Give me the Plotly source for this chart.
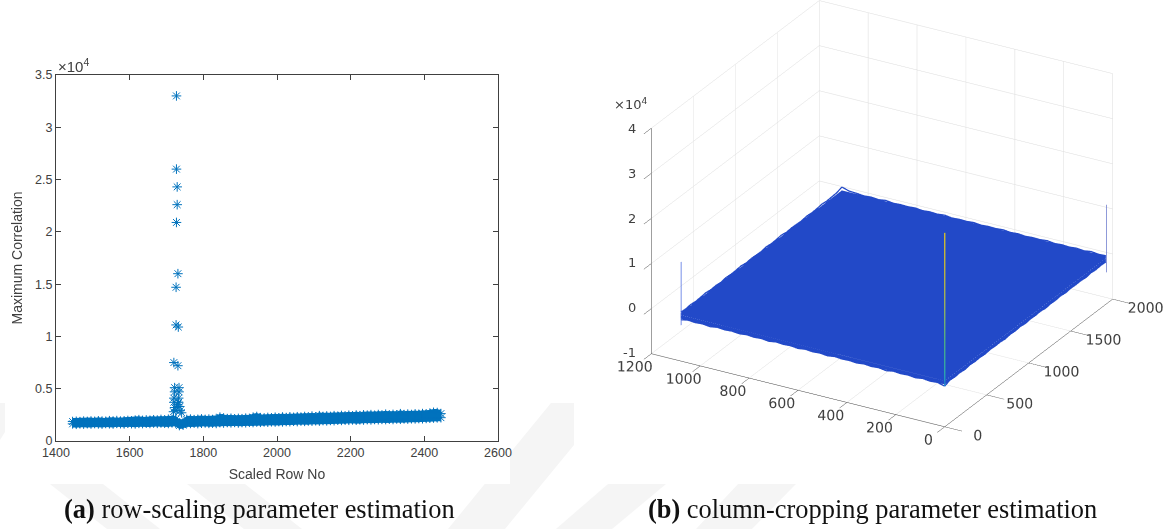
import plotly.graph_objects as go

W, H = 1170, 529
BLUE = "#0072BD"
TXT = "#404040"
SURF = "#2249c8"

# ---- left panel data
band_x = list(range(1445, 2455, 10))
band_upper = [1860,1880,1850,1900,1870,1910,1880,1930,1900,1880,1940,1910,1950,1900,1930,1960,1920,1990,2040,1970,
              2010,1980,2030,2000,2060,2020,2080,2050,2090,1720,1780,2060,2090,2040,2070,2110,2060,2090,2050,2110,
              2280,2190,2140,2170,2120,2160,2130,2180,2150,2270,2340,2230,2190,2250,2210,2270,2220,2290,2240,2310,
              2260,2320,2280,2340,2300,2380,2310,2420,2340,2390,2350,2420,2370,2440,2390,2460,2400,2480,2420,2500,
              2460,2520,2450,2530,2480,2560,2490,2540,2500,2610,2520,2570,2530,2590,2550,2620,2580,2660,2740,2720,2620]
band_lower = [1640,1600,1650,1620,1660,1630,1670,1640,1620,1680,1650,1630,1690,1660,1640,1700,1660,1640,1690,1670,
              1700,1680,1720,1690,1730,1700,1680,1740,1710,1480,1520,1700,1680,1710,1670,1700,1730,1690,1710,1680,
              1760,1720,1770,1740,1780,1730,1770,1750,1790,1770,1820,1790,1830,1800,1840,1820,1860,1830,1870,1850,
              1890,1860,1910,1880,1920,1900,1940,1910,1960,1930,1970,1950,1990,1970,2000,1980,2020,1990,2030,2010,
              2050,2020,2060,2040,2070,2050,2090,2060,2110,2080,2120,2100,2130,2120,2150,2130,2160,2180,2200,2220,2230]
peak_x = [1727,1727,1729,1729,1727,1731,1726,1726,1732,1720,1731,1722,1734,1722,1734,1720,1733,1720,1733,1722,1736,1726,1737,1719,1741,1730]
peak_y = [33000,26000,24300,22600,20900,16000,14700,11100,10900,7500,7200,5100,5100,4700,4700,4100,4100,3700,3700,3200,3300,2900,2900,2800,2700,3500]

x_ticks = [1400, 1600, 1800, 2000, 2200, 2400, 2600]
y_ticks = [0, 5000, 10000, 15000, 20000, 25000, 30000, 35000]
y_labels = ["0", "0.5", "1", "1.5", "2", "2.5", "3", "3.5"]

# ---- right panel data
surf_x = [0, 0, 270, 540, 810, 1080, 1080]
surf_y = [0, 0, 480, 960, 1440, 1920, 1920]
surf_z = [[-700, -600, -600, -600, -600, -600, -700],
          [-600,  200,  210,  200,  220,  210,  600],
          [-600,  210,  200,  220,  210,  220,  650],
          [-600,  200,  220,  210,  200,  220,  650],
          [-600,  210,  200,  220,  210,  210,  650],
          [-600,  200,  210,  200,  220,  230,  650],
          [ 500,  650,  650,  650,  650,  650,  900]]
front_x = [0,30,60,90,120,150,180,210,240,270,300,330,360,390,420,450,480,510,540,570,600,630,660,690,720,750,780,810,840,870,900,930,960,990,1020,1050,1080]
front_z = [-1000,-550,-700,-500,-750,-550,-650,-500,-800,-550,-680,-520,-720,-560,-650,-500,-740,-540,-660,-510,-730,-530,-640,-500,-760,-550,-670,-520,-710,-540,-660,-500,-770,-560,-680,-530,-850]
right_y = [0,60,120,180,240,300,360,420,480,540,600,660,720,780,840,900,960,1020,1080,1140,1200,1260,1320,1380,1440,1500,1560,1620,1680,1740,1800,1860,1920]
right_z = [-1000,-500,-650,-520,-700,-480,-630,-540,-680,-500,-600,-550,-720,-510,-640,-490,-690,-530,-610,-500,-710,-560,-630,-490,-670,-520,-600,-540,-700,-510,-640,-530,-600]
back_x = [1080,1050,1020,990,960,930,900,870,840,810,780,750,720,690,660,630,600,570,540,510,480,450,420,390,360,330,300,270,240,210,180,150,120,90,60,30,0]
back_z = [1400,900,820,650,780,620,860,640,740,680,800,620,760,660,840,610,720,670,810,630,750,690,830,640,770,610,730,680,850,620,760,650,800,630,870,660,750]
left_y = [0,60,120,180,240,300,360,420,480,540,600,660,720,780,840,900,960,1020,1080,1140,1200,1260,1320,1380,1440,1500,1560,1620,1680,1740,1800,1860,1920]
left_z = [800,700,840,680,780,900,720,810,670,860,740,790,920,700,830,760,680,890,730,800,950,710,820,770,690,880,750,810,980,840,920,1000,1400]
spike_x = [0, 0, 0, 0, 0, 0]
spike_y = [0, 0, 0, 0, 0, 0]
spike_z = [-1000, 2000, 9000, 17000, 25000, 33000]
spike_colors = ["#1c8fd6", "#2fb0a8", "#52b87c", "#a8bd50", "#d2c02c", "#e3c91f"]
corner_l_z = [-2000, 12000]
corner_r_z = [-3000, 12000]
corner_r_y = 1925
corner_l_x = 1078

x3_ticks = [0, 200, 400, 600, 800, 1000, 1200]
y3_ticks = [0, 500, 1000, 1500, 2000]
z3_ticks = [-10000, 0, 10000, 20000, 30000, 40000]
z3_labels = ["-1", "0", "1", "2", "3", "4"]

# ---- watermark outlines
wm_polys = [
    [(50,484),(103,484),(160,529),(107,529)],
    [(187,484),(245,484),(302,529),(244,529)],
    [(551,403),(574,403),(574,445),(505,529),(448,529)],
    [(608,484),(666,484),(612,529),(556,529)],
    [(738,484),(796,484),(752,529),(696,529)],
    [(0,403),(5,403),(5,432),(0,440)],
]
FILL_PAD = 330  # solid core of the overlapping star markers


def px(x): return x / W
def py(y): return 1 - y / H


shapes = []
for poly in wm_polys:
    path = "M" + " L".join(f"{px(a):.4f},{py(b):.4f}" for a, b in poly) + " Z"
    shapes.append(dict(type="path", path=path, xref="paper", yref="paper", layer="below",
                       fillcolor="#f5f5f5", line=dict(width=0)))
shapes.append(dict(type="rect", xref="paper", yref="paper", layer="below",
                   x0=px(5), x1=px(510), y0=py(484), y1=py(40),
                   fillcolor="white", line=dict(width=0)))

fig = go.Figure()
fig.add_trace(go.Scatter(x=band_x, y=[v - FILL_PAD for v in band_lower], mode="lines", line=dict(width=0), hoverinfo="skip", showlegend=False))
fig.add_trace(go.Scatter(x=band_x, y=[v + FILL_PAD for v in band_upper], mode="lines", line=dict(width=0), fill="tonexty",
                         fillcolor=BLUE, hoverinfo="skip", showlegend=False))
marker = dict(symbol="asterisk-open", size=8, line=dict(color=BLUE, width=1), color=BLUE)
for ys, xs in ((band_lower, band_x), (band_upper, band_x), (peak_y, peak_x)):
    fig.add_trace(go.Scatter(x=xs, y=ys, mode="markers", marker=marker, showlegend=False))

# 3D panel
surface_scale = [[0, SURF], [1, SURF]]
fig.add_trace(go.Surface(x=surf_x, y=surf_y, z=surf_z, colorscale=surface_scale, showscale=False,
                         lighting=dict(ambient=1, diffuse=0, specular=0, roughness=1, fresnel=0),
                         hoverinfo="skip", scene="scene"))
edge = dict(color=SURF, width=2.5)
fig.add_trace(go.Scatter3d(x=front_x, y=[0]*len(front_x), z=front_z, mode="lines", line=edge, scene="scene", showlegend=False, hoverinfo="skip"))
fig.add_trace(go.Scatter3d(x=[0]*len(right_y), y=right_y, z=right_z, mode="lines", line=edge, scene="scene", showlegend=False, hoverinfo="skip"))
fig.add_trace(go.Scatter3d(x=back_x, y=[1920]*len(back_x), z=back_z, mode="lines", line=edge, scene="scene", showlegend=False, hoverinfo="skip"))
fig.add_trace(go.Scatter3d(x=[1080]*len(left_y), y=left_y, z=left_z, mode="lines", line=edge, scene="scene", showlegend=False, hoverinfo="skip"))
fig.add_trace(go.Scatter3d(x=spike_x, y=spike_y, z=spike_z, mode="lines",
                           line=dict(width=2.5, color=spike_colors), scene="scene", showlegend=False, hoverinfo="skip"))
fig.add_trace(go.Scatter3d(x=[corner_l_x]*2, y=[0, 0], z=corner_l_z, mode="lines",
                           line=dict(width=1.5, color="#4a6ae0"), scene="scene", showlegend=False, hoverinfo="skip"))
fig.add_trace(go.Scatter3d(x=[0, 0], y=[corner_r_y]*2, z=corner_r_z, mode="lines",
                           line=dict(width=1.5, color="#6a78cc"), scene="scene", showlegend=False, hoverinfo="skip"))


def ax3(vals, rng, ticklen, show_labels=True):
    return dict(range=rng, tickvals=vals, ticktext=[str(v) for v in vals], tickmode="array",
                showticklabels=show_labels,
                showbackground=False, showgrid=True, gridcolor="#dcdcdc", gridwidth=1, zeroline=False,
                showline=True, linecolor=TXT, linewidth=1, ticks="outside", tickcolor=TXT, ticklen=ticklen, tickwidth=1, tickangle=0,
                tickfont=dict(family="DejaVu Sans", size=13, color=TXT), title=dict(text=""), showspikes=False)


annotations = [
    dict(text="×10<sup>4</sup>", x=px(56), y=py(66), xref="paper", yref="paper", xanchor="left", yanchor="middle",
         showarrow=False, font=dict(family="Liberation Sans", size=15, color=TXT)),
    dict(text="×10<sup>4</sup>", x=px(612), y=py(104), xref="paper", yref="paper", xanchor="left", yanchor="middle",
         showarrow=False, font=dict(family="DejaVu Sans", size=13, color=TXT)),
    dict(text="<b>(a)</b> row-scaling parameter estimation", x=px(62), y=py(509), xref="paper", yref="paper",
         xanchor="left", yanchor="middle", showarrow=False, font=dict(family="Liberation Serif", size=26.4, color="#111111")),
    dict(text="<b>(b)</b> column-cropping parameter estimation", x=px(646), y=py(509), xref="paper", yref="paper",
         xanchor="left", yanchor="middle", showarrow=False, font=dict(family="Liberation Serif", size=26.4, color="#111111")),
]
# z tick labels sit level with their ticks; the scene's own z labels cannot be placed that way
for val, lab in zip(z3_ticks, z3_labels):
    annotations.append(dict(text=lab, x=px(638), y=py(352.5 - (val + 10000) * 44.8 / 10000), xref="paper", yref="paper",
                            xanchor="right", yanchor="middle", showarrow=False,
                            font=dict(family="DejaVu Sans", size=13, color=TXT)))

fig.update_layout(
    width=W, height=H, margin=dict(l=0, r=0, t=0, b=0, autoexpand=False),
    paper_bgcolor="white", plot_bgcolor="rgba(0,0,0,0)", showlegend=False,
    shapes=shapes,
    xaxis=dict(domain=[px(56), px(498)], range=[1400, 2600], tickvals=x_ticks, ticktext=[str(v) for v in x_ticks],
               ticks="inside", ticklen=5, tickcolor=TXT, showline=True, mirror="ticks", linecolor=TXT, linewidth=1,
               showgrid=False, zeroline=False, tickfont=dict(family="Liberation Sans", size=12.5, color=TXT),
               title=dict(text="Scaled Row No", standoff=10, font=dict(family="Liberation Sans", size=14, color=TXT))),
    yaxis=dict(domain=[py(441), py(75)], range=[0, 35000], tickvals=y_ticks, ticktext=y_labels,
               ticks="inside", ticklen=5, tickcolor=TXT, showline=True, mirror="ticks", linecolor=TXT, linewidth=1,
               showgrid=False, zeroline=False, tickfont=dict(family="Liberation Sans", size=12.5, color=TXT),
               title=dict(text="Maximum Correlation", standoff=9, font=dict(family="Liberation Sans", size=14, color=TXT))),
    scene=dict(
        domain=dict(x=[px(598), px(1166)], y=[0, 1]),
        aspectmode="manual", aspectratio=dict(x=1.278, y=1.278, z=0.947),
        camera=dict(projection=dict(type="orthographic"), eye=dict(x=0.894, y=-1.562, z=0.6565),
                    up=dict(x=0, y=0, z=1), center=dict(x=0, y=0, z=-0.2135)),
        xaxis=ax3(x3_ticks, [1200, 0], 20), yaxis=ax3(y3_ticks, [0, 2000], 15),
        zaxis=ax3(z3_ticks, [-10000, 40000], 280, show_labels=False),
        bgcolor="rgba(0,0,0,0)",
    ),
    annotations=annotations,
)
fig.write_html("out.html", post_script="document.body.style.margin='0';document.body.style.overflow='hidden';",
               config=dict(displayModeBar=False))
